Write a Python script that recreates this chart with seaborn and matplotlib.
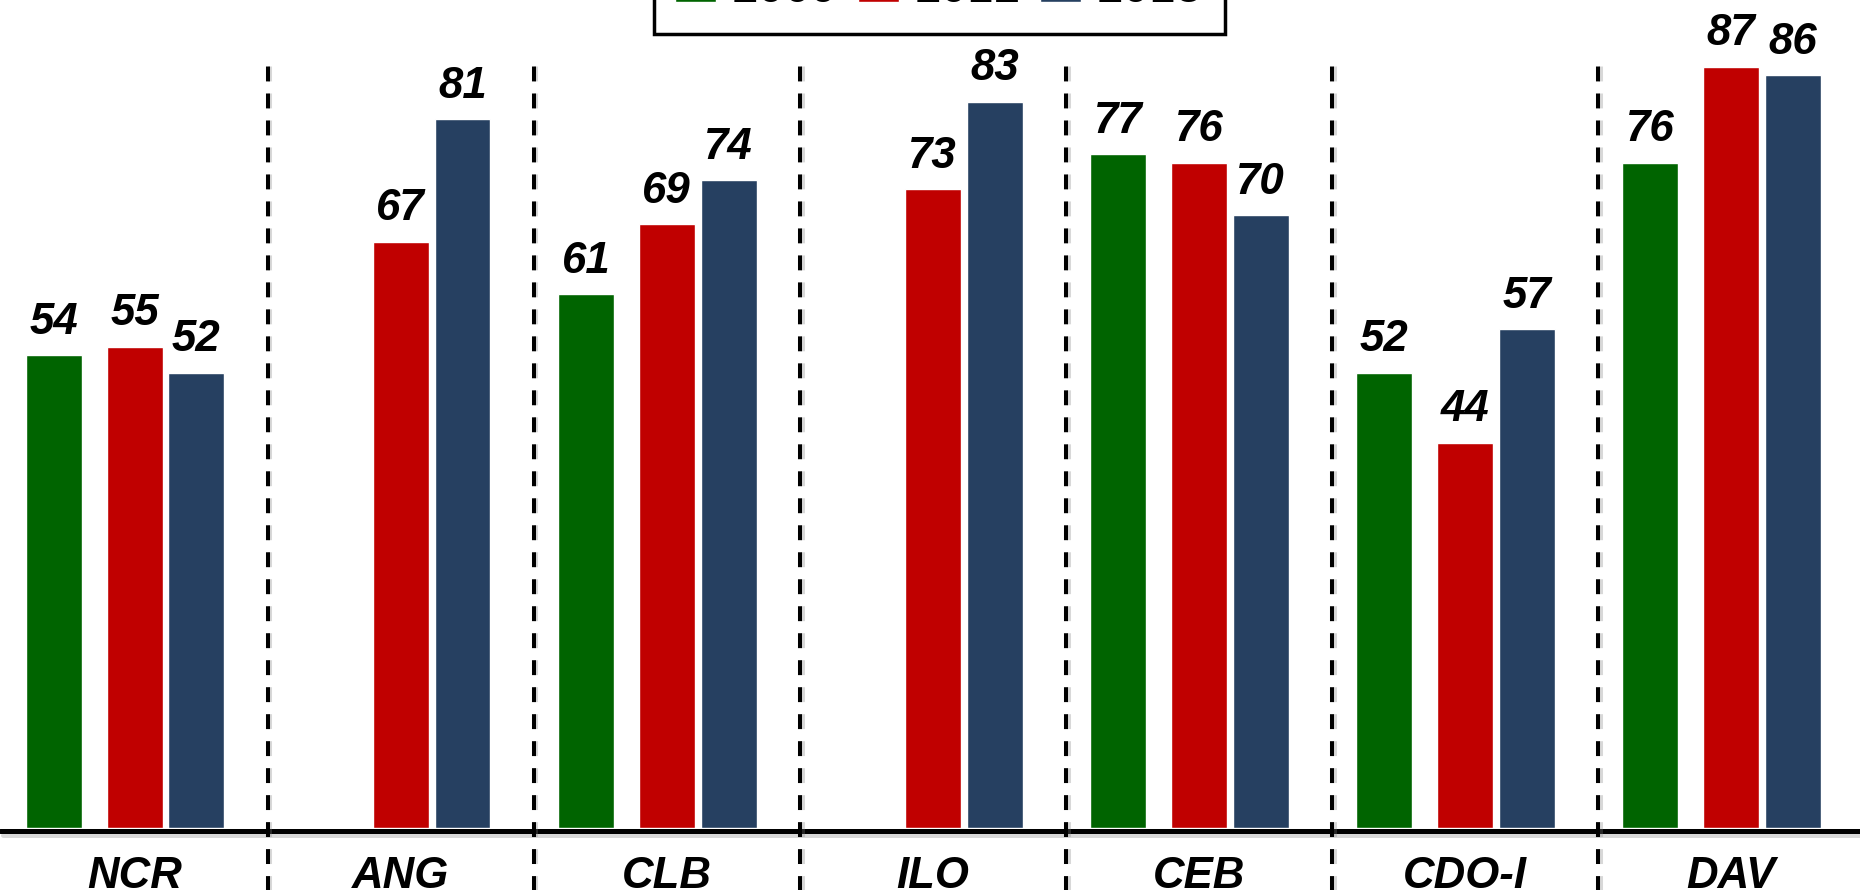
import pandas as pd
import numpy as np
import matplotlib
matplotlib.use("Agg")
import matplotlib.pyplot as plt
import matplotlib.patheffects as pe
import seaborn as sns

# data (NaN = no bar)
regions = ["NCR", "ANG", "CLB", "ILO", "CEB", "CDO-I", "DAV"]
years = ["2009", "2012", "2015"]
v2009 = [54, np.nan, 61, np.nan, 77, 52, 76]
v2012 = [55, 67, 69, 73, 76, 44, 87]
v2015 = [52, 81, 74, 83, 70, 57, 86]
colors = ["#006400", "#C00000", "#264061"]

df = pd.DataFrame({"region": regions * 3,
                   "year": [y for y in years for _ in regions],
                   "value": v2009 + v2012 + v2015})

sns.set_style("white")
plt.rcParams["font.family"] = ["Liberation Sans", "DejaVu Sans"]
plt.rcParams["text.color"] = "black"

fig = plt.figure(figsize=(18.6, 8.9), dpi=100)
ax = fig.add_axes([0, 0.0697, 1, 0.9303])

sns.barplot(data=df, x="region", y="value", hue="year", order=regions,
            hue_order=years, palette=colors, saturation=1, width=0.697,
            gap=0.095, edgecolor="white", linewidth=1, ax=ax)

# green bars sit a little further from the other two
for p in ax.containers[0]:
    p.set_x(p.get_x() - 0.071)

for c in ax.containers:
    ax.bar_label(c, fmt="%d", padding=9, fontsize=31.5, color="black",
                 fontweight="bold", fontstyle="italic")

ax.set_xlim(-0.506, 6.485)
ax.set_ylim(0, 94.6)
ax.set_xlabel("")
ax.set_ylabel("")
ax.set_yticks([])
ax.tick_params(axis="x", length=0, pad=20, labelcolor="black")
for lab in ax.get_xticklabels():
    lab.set_fontsize(31.5)
    lab.set_fontweight("bold")
    lab.set_fontstyle("italic")
sns.despine(ax=ax, left=True, bottom=True)

shadow = [pe.SimpleLineShadow(offset=(2, -3), alpha=0.3, shadow_color="gray"),
          pe.Normal()]
ax.axhline(-0.3, color="black", lw=3.6, clip_on=False, path_effects=shadow)
seps = np.arange(len(regions) - 1) + 0.5
ax.vlines(seps, -8, 87.5, colors="black", lw=2.9, linestyles=(0, (3.7, 3.0)),
          clip_on=False, path_effects=shadow)

handles, labels = ax.get_legend_handles_labels()
ax.get_legend().remove()
leg = fig.legend(handles, labels, loc="lower center", ncol=3,
                 bbox_to_anchor=(0.505, 0.962), bbox_transform=fig.transFigure,
                 fontsize=34.5, frameon=True, fancybox=False, framealpha=1,
                 edgecolor="black", borderpad=0.45, borderaxespad=0,
                 handlelength=0.85, handletextpad=0.33, columnspacing=0.41)
leg.get_frame().set_linewidth(2.5)

fig.savefig("out.png", dpi=100)
